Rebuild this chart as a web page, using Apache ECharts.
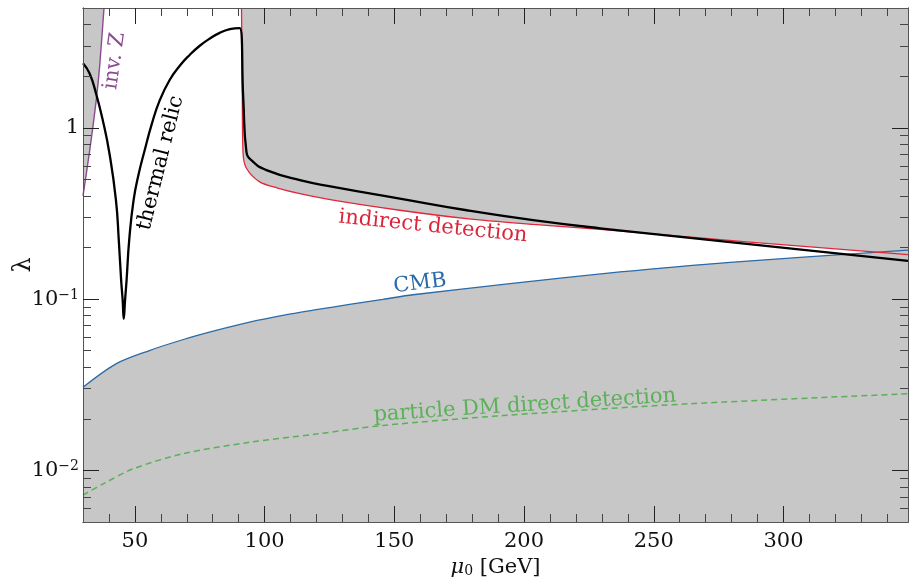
<!DOCTYPE html>
<html>
<head>
<meta charset="utf-8">
<script src="https://cdn.jsdelivr.net/npm/echarts@6/dist/echarts.min.js"></script>
<style>
html, body { margin: 0; padding: 0; background: #fff; }
#main { width: 909px; height: 581px; }
</style>
</head>
<body>
<div id="main"></div>
<script>
// tick values
var massTicks = [50, 100, 150, 200, 250, 300];
var massMinor = [40, 60, 70, 80, 90, 110, 120, 130, 140, 160, 170, 180, 190,
	210, 220, 230, 240, 260, 270, 280, 290, 310, 320, 330, 340];
var lambdaTicks = [0.01, 0.1, 1];
var lambdaMinor = [0.006, 0.007, 0.008, 0.009, 0.02, 0.03, 0.04, 0.05, 0.06, 0.07, 0.08, 0.09,
	0.2, 0.3, 0.4, 0.5, 0.6, 0.7, 0.8, 0.9, 2, 3, 4];

// CMB bound (excluded below)
var cmbMass = [30, 42.7, 55.6, 68.4, 81.3, 94.2, 107, 119.9, 132.7, 145.6, 157.2, 194.6, 237, 279.4, 348];
var cmbLambda = [0.0306, 0.0419, 0.0501, 0.0579, 0.0656, 0.0733, 0.0803, 0.0867, 0.0931, 0.0996, 0.106, 0.123, 0.144, 0.164, 0.193];

// indirect detection (excluded above)
var indMass = [91.1, 91.4, 91.7, 93.0, 98.1, 105.0, 113.6, 126.4, 152.1, 177.9, 203.5, 229.3, 285.8, 348];
var indLambda = [5, 1.5, 0.71, 0.58, 0.483, 0.445, 0.413, 0.378, 0.330, 0.295, 0.273, 0.255, 0.216, 0.182];

// invisible Z width (excluded left)
var invZMass = [30, 32.6, 35.1, 36.4, 38.1];
var invZLambda = [0.40, 0.74, 1.45, 2.27, 5.0];

// thermal relic
var relicMass = [30, 32.5, 35.0, 37.6, 40.2, 42.7, 43.8, 44.7, 45.3, 45.7, 46.2, 46.8, 47.8, 49.5, 51.5,
	53.8, 56.5, 59.6, 63.4, 67.3, 71.1, 75.0, 78.9, 82.7, 86.6, 90.4, 91.8, 93.0, 95.6, 100.7, 113.6, 126.4,
	152.1, 177.9, 203.5, 229.3, 285.8, 348];
var relicLambda = [2.38, 2.08, 1.59, 1.11, 0.708, 0.378, 0.22, 0.129, 0.098, 0.0768, 0.098, 0.129, 0.22, 0.378, 0.54,
	0.741, 1.05, 1.45, 1.90, 2.30, 2.66, 3.01, 3.32, 3.58, 3.76, 3.82, 1.45, 0.724, 0.633, 0.566, 0.494, 0.452,
	0.386, 0.330, 0.289, 0.259, 0.210, 0.167];

// particle DM direct detection
var ddMass = [30, 37.6, 49.2, 68.4, 94.2, 119.9, 145.6, 191.9, 263.9, 348];
var ddLambda = [0.00718, 0.00832, 0.0102, 0.0125, 0.0146, 0.0163, 0.0183, 0.0209, 0.0245, 0.0280];

var grey = '#c6c7c6';
var font = 'DejaVu Serif';

function pairs(xs, ys) {
	return xs.map(function (x, i) { return [x, ys[i]]; });
}

function xAxis(pos, ticks, len, labels) {
	return {
		type: 'value', min: 30, max: 348, position: pos, z: 10,
		axisLine: { show: true, onZero: false, lineStyle: { color: '#555', width: 1 } },
		axisTick: { show: true, inside: true, length: len, customValues: ticks,
			lineStyle: { color: len > 10 ? '#222' : '#444', width: 1 } },
		axisLabel: labels ? { show: true, customValues: massTicks, color: '#111', fontSize: 21, fontFamily: font, margin: 9 } : { show: false },
		splitLine: { show: false }
	};
}

function yAxis(pos, ticks, len, labels) {
	return {
		type: 'log', logBase: 10, min: 0.005, max: 5, position: pos, z: 10,
		axisLine: { show: true, onZero: false, lineStyle: { color: '#555', width: 1 } },
		axisTick: { show: true, inside: true, length: len, customValues: ticks,
			lineStyle: { color: len > 10 ? '#222' : '#444', width: 1 } },
		axisLabel: labels ? {
			show: true, customValues: lambdaTicks, color: '#111', fontSize: 21, fontFamily: font, margin: 4,
			formatter: function (v) {
				if (v > 0.5) return '1';
				return '10{sup|\u2212' + Math.round(-Math.log10(v)) + '}';
			},
			rich: { sup: { fontSize: 14, fontFamily: font, color: '#111', verticalAlign: 'top', padding: [0, 0, 8, 0] } }
		} : { show: false },
		splitLine: { show: false }
	};
}

var myChart = echarts.init(document.getElementById('main'));

var xs = [xAxis('bottom', massTicks, 16, true), xAxis('bottom', massMinor, 8, false),
	xAxis('top', massTicks, 16, false), xAxis('top', massMinor, 8, false)];
xs[0].name = '{i|\u03bc}{s|0} [GeV]';
xs[0].nameLocation = 'middle';
xs[0].nameGap = 35;
xs[0].nameMoveOverlap = false;
xs[0].nameTextStyle = { fontSize: 21, fontFamily: font, color: '#111',
	rich: { i: { fontSize: 21, fontFamily: font, fontStyle: 'italic', color: '#111' },
		s: { fontSize: 14, fontFamily: font, color: '#111', verticalAlign: 'bottom' } } };

var ys = [yAxis('left', lambdaTicks, 16, true), yAxis('left', lambdaMinor, 8, false),
	yAxis('right', lambdaTicks, 16, false), yAxis('right', lambdaMinor, 8, false)];
ys[0].name = '\u03bb';
ys[0].nameLocation = 'middle';
ys[0].nameGap = 47;
ys[0].nameMoveOverlap = false;
ys[0].nameTextStyle = { fontSize: 24, fontFamily: font, color: '#111' };

function area(data, origin) {
	return {
		type: 'line', data: data, symbol: 'none', silent: true, z: 1,
		smooth: 0.3,
		lineStyle: { width: 0, opacity: 0 },
		areaStyle: { color: grey, opacity: 1, origin: origin }
	};
}

function curve(data, color, width, type, smooth) {
	return {
		type: 'line', data: data, symbol: 'none', silent: true, z: 3,
		smooth: smooth || 0.3,
		lineStyle: { color: color, width: width, type: type || 'solid' }
	};
}

var option = {
	animation: false,
	backgroundColor: '#fff',
	grid: { left: 83, right: 1, top: 8, bottom: 59, outerBoundsMode: 'none' },
	xAxis: xs,
	yAxis: ys,
	series: [
		area(pairs(cmbMass, cmbLambda), 'start'),
		area(pairs(indMass, indLambda), 'end'),
		area(pairs(invZMass, invZLambda), 'end'),
		curve(pairs(ddMass, ddLambda), '#5cb05a', 1.5, [6, 4]),
		curve(pairs(cmbMass, cmbLambda), '#2b6aa6', 1.3),
		curve(pairs(invZMass, invZLambda), '#8b4a8f', 1.4),
		curve(pairs(indMass, indLambda), '#e3263b', 1.3),
		curve(pairs(relicMass, relicLambda), '#000', 2.3, 'solid', 0.5)
	]
};

myChart.setOption(option);

// annotations placed in data coordinates
var notes = [
	{ text: 'inv. Z', at: [42.2, 2.45], angle: 82, color: '#8b4a8f' },
	{ text: 'thermal relic', at: [59.9, 0.622], angle: 76, color: '#000' },
	{ text: 'indirect detection', at: [164.9, 0.265], angle: -5.7, color: '#d9263a' },
	{ text: 'CMB', at: [159.9, 0.123], angle: 7, color: '#2b6aa6' },
	{ text: 'particle DM direct detection', at: [200.3, 0.0239], angle: 3.7, color: '#5cb05a' }
];

myChart.setOption({
	graphic: notes.map(function (n) {
		var p = myChart.convertToPixel({ xAxisIndex: 0, yAxisIndex: 0 }, n.at);
		return {
			type: 'text', x: p[0], y: p[1], rotation: n.angle * Math.PI / 180, z: 100, silent: true,
			style: { text: n.text, fill: n.color, font: '21px "DejaVu Serif"', align: 'center', verticalAlign: 'middle' }
		};
	})
});
</script>
</body>
</html>
